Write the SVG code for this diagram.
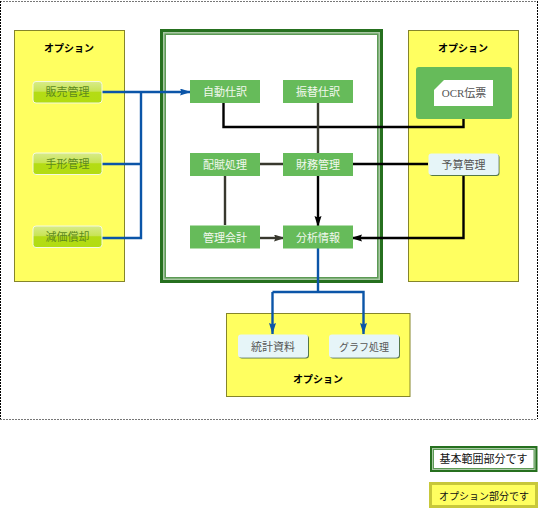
<svg xmlns="http://www.w3.org/2000/svg" width="539" height="510" viewBox="0 0 539 510">
<style>
text{font-family:"Liberation Serif","Noto Sans CJK JP",serif;font-size:11px;text-anchor:middle}
.opt{fill:#ffff60;stroke:#85852a;stroke-width:1}
.title{font-family:"Liberation Sans","Noto Sans CJK JP",sans-serif;font-size:10px;font-weight:700;fill:#000}
.g{fill:#66bb5a}
.gt{fill:#f2f8ee}
.lime{fill:url(#lime);stroke:#f4fae0;stroke-width:1}
.lt{fill:#5d8a1e}
.pale{fill:#e6f5f8;filter:url(#sh)}
.pt{fill:#555}
.line{fill:none;stroke-width:2.400}
.b{stroke:#0b55a8}
.k{stroke:#000}
.d{stroke:#38382e}
.dark{fill:#26701f}
.mid{fill:#a9c8a4}
.fr{fill:none;stroke-width:1;stroke-dasharray:2 1}
</style>
<defs>
<linearGradient id="lime" x1="0" y1="0" x2="0" y2="1">
<stop offset="0" stop-color="#d8eb8a"/><stop offset="0.45" stop-color="#c8e455"/><stop offset="0.5" stop-color="#b4dc14"/><stop offset="1" stop-color="#b2dc12"/>
</linearGradient>
<filter id="sh" x="-10%" y="-10%" width="120%" height="130%"><feDropShadow dx="1" dy="1" stdDeviation="0.6" flood-color="#55784a"/></filter>
<marker id="ab" markerUnits="userSpaceOnUse" markerWidth="12" markerHeight="8" refX="11" refY="3.500" orient="auto"><path d="M0 0L11 3.500L0 7L1.500 3.500Z" fill="#0b55a8"/></marker>
<marker id="ak" markerUnits="userSpaceOnUse" markerWidth="12" markerHeight="8" refX="11" refY="3.500" orient="auto"><path d="M0 0L11 3.500L0 7L1.500 3.500Z" fill="#000"/></marker>
<marker id="ad" markerUnits="userSpaceOnUse" markerWidth="12" markerHeight="8" refX="11" refY="3.500" orient="auto"><path d="M0 0L11 3.500L0 7L1.500 3.500Z" fill="#38382e"/></marker>
</defs>
<rect width="539" height="510" fill="#fff"/>
<path class="fr" stroke="#777" d="M0 1.500H537M0 419.500H537"/>
<path class="fr" stroke="#000" d="M0.500 1V419M537.500 1V419"/>
<g id="option-left"><rect class="opt" x="14.500" y="30.500" width="110" height="251"/><text class="title" x="69" y="52">オプション</text></g>
<g id="option-right"><rect class="opt" x="408.500" y="30.500" width="110" height="251"/><text class="title" x="463" y="52">オプション</text></g>
<g id="option-bottom"><rect class="opt" x="226.500" y="313.500" width="183.500" height="83"/><text class="title" x="318" y="383">オプション</text></g>
<g id="basic-frame"><rect class="dark" x="160" y="29" width="223" height="254"/><rect class="mid" x="163" y="32" width="217" height="248"/><rect fill="#5c9a55" x="164.500" y="33.500" width="214" height="245"/><rect fill="#fff" x="166" y="35" width="211" height="242"/></g>
<g id="connectors">
<path class="line k" d="M223.500 103V127H463.500V119"/>
<path class="line d" d="M318 103V153M260 164H283M225 176V225"/>
<path class="line d" d="M260 238H285" marker-end="url(#ad)"/>
<path class="line k" d="M353 164H428"/>
<path class="line k" d="M318 176V227" marker-end="url(#ak)"/>
<path class="line k" d="M463.500 175V238H351" marker-end="url(#ak)"/>
<path class="line b" d="M102 92H191" marker-end="url(#ab)"/>
<path class="line b" d="M102 164H141M102 238H141V92"/>
<path class="line b" d="M318 248V292"/>
<path class="line b" d="M272.500 292H363.500V334" marker-end="url(#ab)"/>
<path class="line b" d="M272.500 292V334" marker-end="url(#ab)"/>
</g>
<g id="n-jidou"><rect class="g" x="190" y="80" width="70" height="23"/><text class="gt" x="225" y="96">自動仕訳</text></g>
<g id="n-furikae"><rect class="g" x="283" y="80" width="70" height="23"/><text class="gt" x="318" y="96">振替仕訳</text></g>
<g id="n-haifu"><rect class="g" x="190" y="153" width="70" height="23"/><text class="gt" x="225" y="169">配賦処理</text></g>
<g id="n-zaimu"><rect class="g" x="283" y="153" width="70" height="23"/><text class="gt" x="318" y="169">財務管理</text></g>
<g id="n-kanri"><rect class="g" x="190" y="225.500" width="70" height="23"/><text class="gt" x="225" y="241.500">管理会計</text></g>
<g id="n-bunseki"><rect class="g" x="283" y="225.500" width="70" height="23"/><text class="gt" x="318" y="241.500">分析情報</text></g>
<g id="n-hanbai"><rect class="lime" x="33" y="81.500" width="69" height="21.500" rx="3"/><text class="lt" x="67.500" y="96">販売管理</text></g>
<g id="n-tegata"><rect class="lime" x="33" y="153" width="69" height="21.500" rx="3"/><text class="lt" x="67.500" y="168">手形管理</text></g>
<g id="n-genka"><rect class="lime" x="33" y="226" width="69" height="21.500" rx="3"/><text class="lt" x="67.500" y="241">減価償却</text></g>
<g id="n-ocr"><rect class="g" x="416" y="67" width="96" height="52" rx="3"/><path d="M444 80H493V106H434V90Z" fill="#fff"/><text class="pt" x="464" y="97">OCR伝票</text></g>
<g id="n-yosan"><rect class="pale" x="428.500" y="153.500" width="70" height="21.500" rx="3"/><text class="pt" x="463.500" y="169">予算管理</text></g>
<g id="n-toukei"><rect class="pale" x="238" y="334.500" width="70" height="23" rx="3"/><text class="pt" x="273" y="350.500">統計資料</text></g>
<g id="n-graph"><rect class="pale" x="329" y="334.500" width="70" height="23" rx="3"/><text class="pt" x="364" y="350.500" style="font-size:10px">グラフ処理</text></g>
<g id="legend-basic"><rect class="dark" x="430" y="446" width="107.500" height="26"/><rect class="mid" x="432" y="448" width="103.500" height="22"/><rect fill="#5c9a55" x="433" y="449" width="101.500" height="20"/><rect fill="#fff" x="434" y="450" width="99.500" height="18"/><text x="483.500" y="463" fill="#111">基本範囲部分です</text></g>
<g id="legend-option"><rect x="430.500" y="483.500" width="106" height="23" fill="#ffff60" stroke="#c8c83a" stroke-width="3"/><text x="484" y="500" fill="#111" style="font-size:10px">オプション部分です</text></g>
</svg>
